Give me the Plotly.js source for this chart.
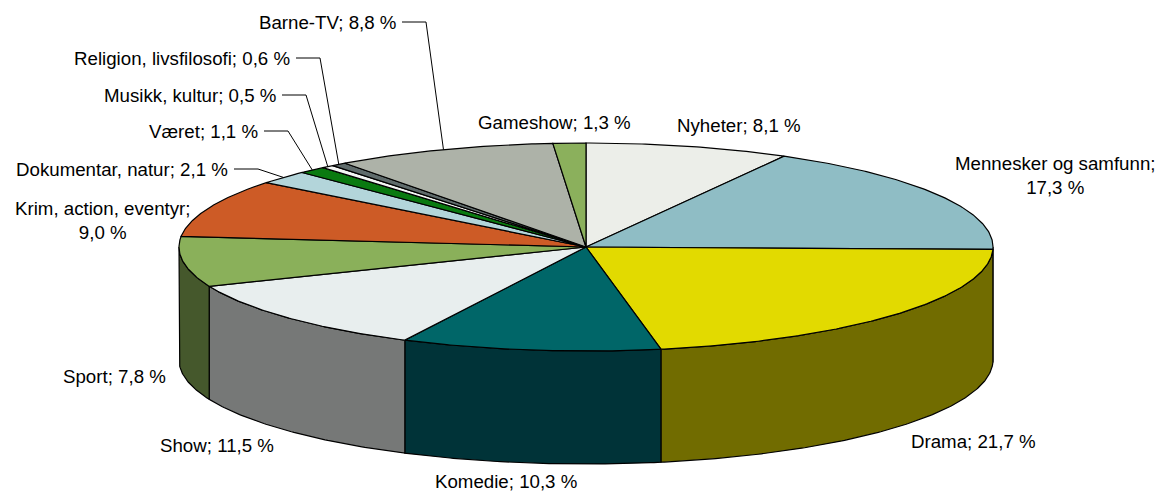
<!DOCTYPE html>
<html>
<head>
<meta charset="utf-8">
<script src="https://cdn.plot.ly/plotly-3.0.1.min.js"></script>
<style>html,body{margin:0;padding:0;background:#fff;}#chart{width:1163px;height:491px;}</style>
</head>
<body>
<div id="chart"></div>
<script>
// ---- data ----
const categories = ['Nyheter','Mennesker og samfunn','Drama','Komedie','Show','Sport','Krim, action, eventyr','Dokumentar, natur','Været','Musikk, kultur','Religion, livsfilosofi','Barne-TV','Gameshow'];
const shares = [8.1, 17.3, 21.7, 10.3, 11.5, 7.8, 9.0, 2.1, 1.1, 0.5, 0.6, 8.8, 1.3];

// ---- styles ----
const topColors  = ['#ECEEE9','#8FBDC5','#E2DA00','#006668','#E8EEEE','#8AB05A','#CD5B26','#B3D5DA','#0A7A10','#F4F6F4','#5F6B6B','#ADB2A8','#8BB05C'];
const sideColors = ['#767771','#486064','#716C00','#003338','#767877','#45582C','#673013','#5A6B6D','#053D08','#7A7B7A','#303636','#575954','#45582E'];
// label placement (text layout only): x, y, anchor, line-break after name, leader line
const labelLayout = [
  {x:739, y:125, anchor:'center', br:false, leader:false},
  {x:1055, y:175, anchor:'center', br:true,  leader:false},
  {x:973, y:441, anchor:'center', br:false, leader:false},
  {x:506, y:481, anchor:'center', br:false, leader:false},
  {x:217, y:445, anchor:'center', br:false, leader:false},
  {x:114, y:376, anchor:'center', br:false, leader:false},
  {x:103, y:220, anchor:'center', br:true,  leader:false},
  {x:230, y:169, anchor:'right',  br:false, leader:true},
  {x:260, y:131, anchor:'right',  br:false, leader:true},
  {x:278, y:95,  anchor:'right',  br:false, leader:true},
  {x:292, y:58,  anchor:'right',  br:false, leader:true},
  {x:398, y:22,  anchor:'right',  br:false, leader:true},
  {x:554, y:122, anchor:'center', br:false, leader:false}
];

// ---- geometry of the tilted pie (layout sizes) ----
const W = 1163, H = 491;
const CX = 586, CY = 247, RX = 407, RY = 104, DEPTH = 113;
function pt(deg, dy) {
  const r = deg * Math.PI / 180;
  return [CX + RX * Math.sin(r), CY - RY * Math.cos(r) + (dy || 0)];
}
function arc(a0, a1, dy) {
  const pts = [];
  const n = Math.max(2, Math.ceil(Math.abs(a1 - a0) / 0.5));
  for (let i = 0; i <= n; i++) pts.push(pt(a0 + (a1 - a0) * i / n, dy));
  return pts;
}

const total = shares.reduce((a, b) => a + b, 0);
const starts = [], ends = [];
let acc = 0;
shares.forEach(v => { starts.push(acc / total * 360); acc += v; ends.push(acc / total * 360); });

const walls = [], tops = [], leaders = [];
categories.forEach((name, i) => {
  const a0 = starts[i], a1 = ends[i];
  // visible outer wall: front half (90..270 deg)
  const w0 = Math.max(a0, 90), w1 = Math.min(a1, 270);
  if (w1 > w0) {
    const up = arc(w0, w1, 0), down = arc(w1, w0, DEPTH);
    const p = up.concat(down); p.push(up[0]);
    walls.push({type:'scatter', mode:'lines', x:p.map(q=>q[0]), y:p.map(q=>q[1]),
      fill:'toself', fillcolor:sideColors[i], line:{color:'#000', width:1.2},
      hoverinfo:'skip', showlegend:false});
  }
  const p = [[CX, CY]].concat(arc(a0, a1, 0)); p.push([CX, CY]);
  tops.push({type:'scatter', mode:'lines', x:p.map(q=>q[0]), y:p.map(q=>q[1]),
    fill:'toself', fillcolor:topColors[i], line:{color:'#000', width:1.2},
    hoverinfo:'skip', showlegend:false, name:name});
  const L = labelLayout[i];
  if (L.leader) {
    const m = pt((a0 + a1) / 2, 0);
    leaders.push({type:'scatter', mode:'lines', x:[L.x + 4, L.x + 28, m[0]], y:[L.y, L.y, m[1]],
      line:{color:'#000', width:1}, hoverinfo:'skip', showlegend:false});
  }
});

function fmt(v) { return v.toFixed(1).replace('.', ',') + ' %'; }
const annotations = categories.map((name, i) => {
  const L = labelLayout[i];
  return {x:L.x, y:L.y, xref:'x', yref:'y', xanchor:L.anchor, yanchor:'middle',
    text: name + ';' + (L.br ? '<br>' : ' ') + fmt(shares[i]), showarrow:false, align:'center',
    font:{family:'Liberation Sans, Arial, sans-serif', size:18.7, color:'#000'}};
});

const layout = {
  width: W, height: H,
  margin: {l:0, r:0, t:0, b:0, pad:0},
  paper_bgcolor:'#fff', plot_bgcolor:'#fff',
  xaxis: {range:[0, W], visible:false, fixedrange:true},
  yaxis: {range:[H, 0], visible:false, fixedrange:true},
  showlegend:false,
  annotations: annotations
};
Plotly.newPlot('chart', walls.concat(tops).concat(leaders), layout, {displayModeBar:false, staticPlot:true});
</script>
</body>
</html>
